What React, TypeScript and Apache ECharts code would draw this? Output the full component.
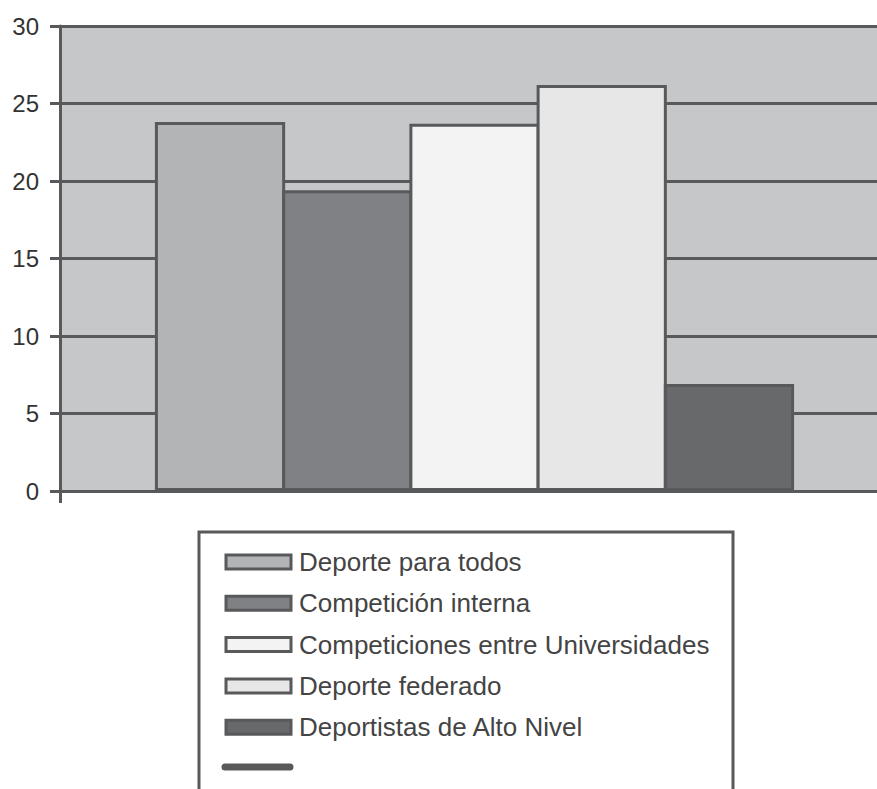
import React, { useEffect, useRef } from "react";
import * as echarts from "echarts";

const categories = [""];
const seriesNames = [
  "Deporte para todos",
  "Competición interna",
  "Competiciones entre Universidades",
  "Deporte federado",
  "Deportistas de Alto Nivel",
];
const seriesValues = [23.8, 19.4, 23.7, 26.2, 6.9];
const seriesColors = ["#b3b4b6", "#808185", "#f3f3f3", "#e6e7e6", "#68696b"];
const yTicks = { min: 0, max: 30, interval: 5 };

const FONT = '"Liberation Sans", Arial, Helvetica, sans-serif';
const DARK = "#58595b";

export default function App() {
  const ref = useRef<HTMLDivElement>(null);
  useEffect(() => {
    if (!ref.current) return;
    const chart = echarts.init(ref.current, undefined, { renderer: "svg" });
    chart.setOption({
      animation: false,
      backgroundColor: "#ffffff",
      grid: {
        left: 60,
        right: 0,
        top: 26,
        bottom: 298,
        show: true,
        backgroundColor: "#c6c7c9",
        borderWidth: 0,
      },
      legend: {
        orient: "vertical",
        left: 224.5,
        top: 548,
        padding: 0,
        itemWidth: 65,
        itemHeight: 14,
        itemGap: 13.3,
        icon: "rect",
        data: seriesNames,
        textStyle: {
          fontFamily: FONT,
          fontSize: 26,
          lineHeight: 28,
          color: "#444444",
          padding: [0, 0, 0, 3],
        },
        itemStyle: { borderColor: DARK, borderWidth: 3 },
        selectedMode: false,
      },
      xAxis: {
        type: "category",
        data: categories,
        axisLine: { show: true, lineStyle: { color: DARK, width: 3 } },
        axisTick: { show: true, length: 12, lineStyle: { color: DARK, width: 3 } },
        axisLabel: { show: false },
        splitLine: { show: false },
      },
      yAxis: {
        type: "value",
        min: yTicks.min,
        max: yTicks.max,
        interval: yTicks.interval,
        axisLine: { show: true, lineStyle: { color: DARK, width: 3 } },
        axisTick: { show: true, length: 10, lineStyle: { color: DARK, width: 3 } },
        axisLabel: {
          margin: 21,
          fontFamily: FONT,
          fontSize: 24,
          color: "#333333",
        },
        splitLine: { show: true, lineStyle: { color: DARK, width: 3 } },
      },
      series: seriesNames.map((name, i) => ({
        name,
        type: "bar",
        data: [seriesValues[i]],
        barGap: "-2.3%",
        barCategoryGap: "22.9%",
        itemStyle: {
          color: seriesColors[i],
          borderColor: DARK,
          borderWidth: 3,
        },
      })),
      graphic: [
        {
          type: "rect",
          shape: { x: 199, y: 532, width: 534, height: 320 },
          style: { fill: "none", stroke: DARK, lineWidth: 3 },
          silent: true,
        },
        {
          type: "line",
          shape: { x1: 225, y1: 767, x2: 290, y2: 767 },
          style: { stroke: DARK, lineWidth: 7, lineCap: "round" },
          silent: true,
        },
      ],
    });
    return () => chart.dispose();
  }, []);
  return (
    <div
      style={{
        position: "fixed",
        left: 0,
        top: 0,
        width: 877,
        height: 789,
        overflow: "hidden",
      }}
    >
      <div ref={ref} style={{ width: 889, height: 789 }} />
    </div>
  );
}
